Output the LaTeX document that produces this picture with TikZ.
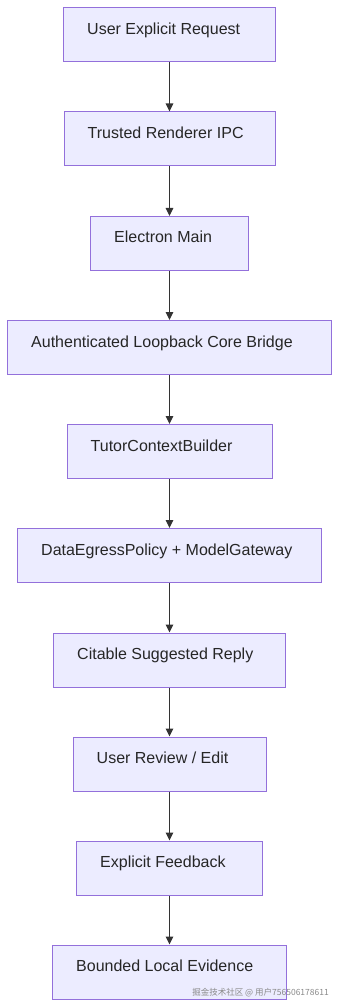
\documentclass[tikz,border=0pt]{standalone}
\usepackage{fontspec}
\setmainfont{Liberation Sans}
\newfontfamily\cjk{Noto Sans CJK SC}
\usetikzlibrary{arrows.meta}
\definecolor{boxfill}{HTML}{ECECFF}
\definecolor{boxline}{HTML}{9370DB}
\definecolor{edge}{HTML}{333333}
\definecolor{wm}{HTML}{8A8A8A}
\tikzset{
  flowbox/.style={draw=boxline, fill=boxfill, line width=1pt, inner sep=0pt, minimum height=54pt},
  flowtext/.style={anchor=base west, inner sep=0pt, font=\fontsize{16pt}{19pt}\selectfont, text=black!85},
  flowarrow/.style={draw=edge, line width=1.2pt, -{Triangle[length=8pt,width=7.5pt]}, shorten >=0pt}
}
\begin{document}
\begin{tikzpicture}[x=1pt,y=-1pt]
\useasboundingbox (0,0) rectangle (339,1008);
% boxes: left, right, top
\newcommand\mybox[5]{%
  \node[flowbox, minimum width={#3-#2}] (#1) at ({(#2+#3)/2},{#4+27}) {};
  \node[flowtext] (#1t) at ({#2+23.5},{#4+26.5}) {#5};
}
\mybox{b1}{63.5}{275.5}{8}{User Explicit Request}
\mybox{b2}{64}{275}{112}{Trusted Renderer IPC}
\mybox{b3}{90.5}{248.5}{216.5}{Electron Main}
\mybox{b4}{7.5}{331.5}{320.5}{Authenticated Loopback Core Bridge}
\mybox{b5}{67}{272}{424.5}{TutorContextBuilder}
\mybox{b6}{17.5}{321.5}{528.5}{DataEgressPolicy + ModelGateway}
\mybox{b7}{53.5}{285.5}{633}{Citable Suggested Reply}
\mybox{b8}{73}{266.5}{737}{User Review / Edit}
\mybox{b9}{76.5}{262.5}{841}{Explicit Feedback}
\mybox{b10}{52.5}{286.5}{945}{Bounded Local Evidence}
\foreach \a/\b in {b1/b2,b2/b3,b3/b4,b4/b5,b5/b6,b6/b7,b7/b8,b8/b9,b9/b10}{
  \draw[flowarrow] (169.5,0 |- \a.south) -- (169.5,0 |- \b.north);
}
\node[anchor=east, inner sep=0pt, text=wm, font=\cjk\fontsize{8.5pt}{10pt}\selectfont] (wmk) at (329,993) {掘金技术社区 @ 用户756506178611};
\end{tikzpicture}
\end{document}
